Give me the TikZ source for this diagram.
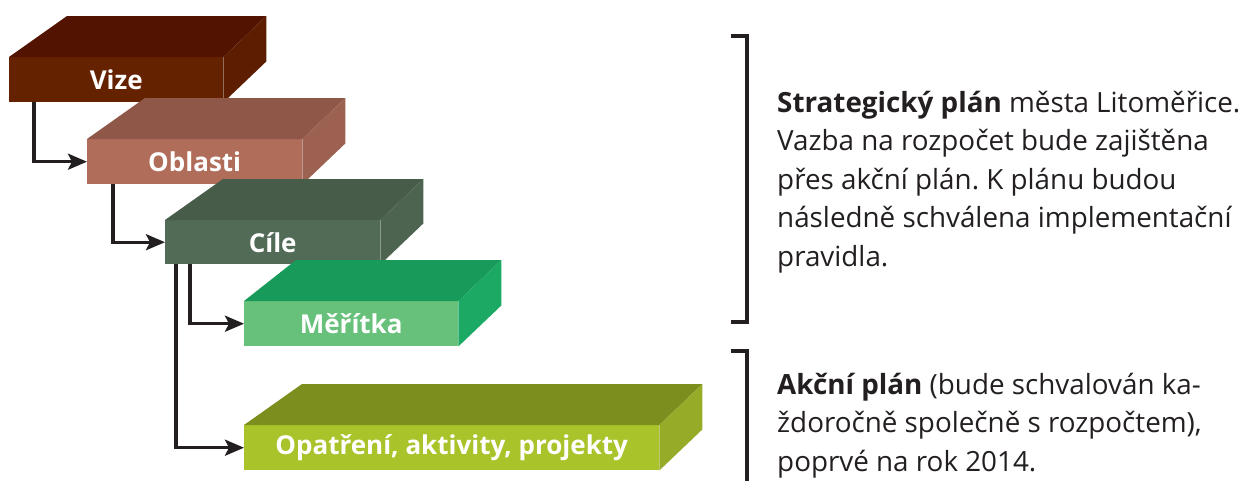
\documentclass[tikz,border=0pt]{standalone}
\usepackage{fontspec}
\setmainfont{Open Sans}
\frenchspacing
\usetikzlibrary{arrows.meta}
\definecolor{vizeF}{HTML}{652200}
\definecolor{vizeT}{HTML}{521400}
\definecolor{vizeR}{HTML}{5C1D00}
\definecolor{oblF}{HTML}{B06D5A}
\definecolor{oblT}{HTML}{8E5748}
\definecolor{oblR}{HTML}{9C6151}
\definecolor{cilF}{HTML}{526B57}
\definecolor{cilT}{HTML}{485C4A}
\definecolor{cilR}{HTML}{4C6450}
\definecolor{merF}{HTML}{67C17B}
\definecolor{merT}{HTML}{179A5A}
\definecolor{merR}{HTML}{1BA964}
\definecolor{opaF}{HTML}{A9C32B}
\definecolor{opaT}{HTML}{7C8F1E}
\definecolor{opaR}{HTML}{96AB27}
\definecolor{ink}{HTML}{231F20}
\tikzset{
  front/.style={draw=none, inner sep=0pt, anchor=north west, text=white,
    minimum height=45pt, font=\bfseries\fontsize{26}{26}\selectfont},
  conn/.style={draw=ink, line width=3.2pt, -{Stealth[length=19pt,width=16pt,inset=4pt]}},
  brk/.style={draw=ink, line width=3.2pt},
  txt/.style={inner sep=0pt, anchor=base west, text=ink, font=\fontsize{27.8}{38}\selectfont}
}
\newcommand\cubefaces[4]{% name, top colour, right colour, left depth
  \fill[#2] (#1.north west) -- ++(#4,-41) -- ([xshift=43pt,yshift=41pt]#1.north east) -- (#1.north east) -- cycle;
  \fill[#3] (#1.north east) -- ++(43,-41) -- ([xshift=43pt,yshift=41pt]#1.south east) -- (#1.south east) -- cycle;
}
\begin{document}
\begin{tikzpicture}[x=1pt,y=-1pt]
\useasboundingbox (0,0) rectangle (1255,480);
% boxes
\node[front, fill=vizeF, minimum width=214pt] (vize) at (9,57) {Vize};
\cubefaces{vize}{vizeT}{vizeR}{58}
\node[front, fill=oblF, minimum width=215pt] (obl) at (87,139) {Oblasti};
\cubefaces{obl}{oblT}{oblR}{58}
\node[front, fill=cilF, minimum width=215pt, minimum height=44pt] (cil) at (165,220) {Cíle};
\cubefaces{cil}{cilT}{cilR}{58}
\node[front, fill=merF, minimum width=214pt] (mer) at (244,301) {Měřítka};
\cubefaces{mer}{merT}{merR}{52}
\node[front, fill=opaF, minimum width=415pt] (opa) at (244,425) {Opatření, aktivity, projekty};
\cubefaces{opa}{opaT}{opaR}{58}
% connectors
\draw[conn] ([xshift=25pt]vize.south west) |- (obl.west);
\draw[conn] ([xshift=26pt]obl.south west) |- (cil.west);
\draw[conn] ([xshift=25pt]cil.south west) |- (mer.west);
\draw[conn] ([xshift=11pt]cil.south west) |- (opa.west);
% brackets
\draw[brk] (731,36) -- (747,36) -- (747,322) -- (731,322);
\draw[brk] (731,351) -- (747,351) -- (747,482);
% texts
\node[txt] (s1) at (777,112) {\textbf{Strategický plán} města Litoměřice.};
\node[txt] (s2) at (777,150.5) {Vazba na rozpočet bude zajištěna};
\node[txt] (s3) at (777,189) {přes akční plán. K plánu budou};
\node[txt] (s4) at (777,227.5) {následně schválena implementační};
\node[txt] (s5) at (777,266) {pravidla.};
\node[txt] (a1) at (777,394) {\textbf{Akční plán} (bude schvalován ka-};
\node[txt] (a2) at (777,432.5) {ždoročně společně s rozpočtem),};
\node[txt] (a3) at (777,471) {poprvé na rok 2014.};
\end{tikzpicture}
\end{document}
